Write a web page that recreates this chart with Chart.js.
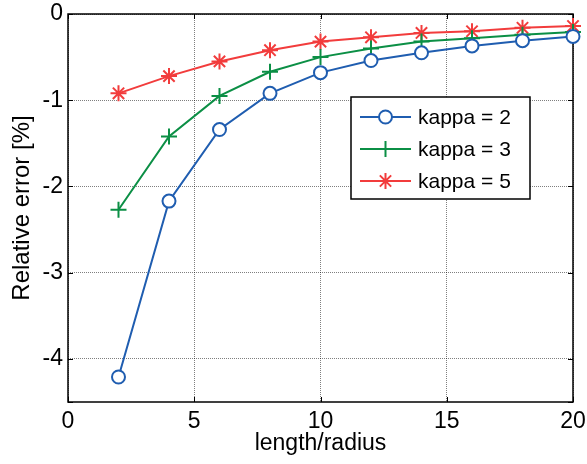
<!DOCTYPE html>
<html>
<head>
<meta charset="utf-8">
<script src="https://cdn.jsdelivr.net/npm/chart.js@4/dist/chart.umd.min.js"></script>
<style>
    body { margin: 0; background: #fff; }
    canvas { display: block; }
</style>
</head>
<body>
<canvas id="errorChart" width="587" height="464"></canvas>
<script>
// Data
const lengthRadius = [2, 4, 6, 8, 10, 12, 14, 16, 18, 20];
const errKappa2 = [-4.21, -2.17, -1.34, -0.92, -0.68, -0.54, -0.45, -0.37, -0.31, -0.26];
const errKappa3 = [-2.27, -1.42, -0.95, -0.67, -0.50, -0.40, -0.32, -0.28, -0.24, -0.21];
const errKappa5 = [-0.92, -0.72, -0.55, -0.42, -0.32, -0.27, -0.22, -0.20, -0.16, -0.14];
const seriesLabels = ['kappa = 2', 'kappa = 3', 'kappa = 5'];
const xTickValues = [0, 5, 10, 15, 20];
const yTickValues = [0, -1, -2, -3, -4];

const FONT = 'Arial, "Liberation Sans", Helvetica, sans-serif';

// build {x, y} points
const toPoints = (ys) => lengthRadius.map((x, i) => ({ x: x, y: ys[i] }));

const makeSeries = (label, ys, color, style, radius) => ({
    label: label,
    data: toPoints(ys),
    borderColor: color,
    backgroundColor: color,
    borderWidth: 2,
    pointStyle: style,
    pointRadius: radius,
    pointBorderWidth: 2,
    pointBorderColor: color,
    pointBackgroundColor: '#ffffff',
    tension: 0,
    clip: false
});

// --- frame with inward ticks (MATLAB style box) ---
const framePlugin = {
    id: 'frame',
    beforeDatasetsDraw(chart) {
        const { ctx, chartArea: a, scales } = chart;
        const tick = 5;
        ctx.save();
        ctx.strokeStyle = '#000';
        ctx.lineWidth = 1.5;
        ctx.strokeRect(a.left, a.top, a.right - a.left, a.bottom - a.top);
        ctx.lineWidth = 1;
        ctx.beginPath();
        xTickValues.forEach(v => {
            const px = Math.round(scales.x.getPixelForValue(v)) + 0.5;
            ctx.moveTo(px, a.bottom); ctx.lineTo(px, a.bottom - tick);
            ctx.moveTo(px, a.top); ctx.lineTo(px, a.top + tick);
        });
        yTickValues.concat([-4.5]).forEach(v => {
            const py = Math.round(scales.y.getPixelForValue(v)) + 0.5;
            ctx.moveTo(a.left, py); ctx.lineTo(a.left + tick, py);
            ctx.moveTo(a.right, py); ctx.lineTo(a.right - tick, py);
        });
        ctx.stroke();
        ctx.restore();
    }
};

// --- legend box inside the axes ---
const boxLegendPlugin = {
    id: 'boxLegend',
    afterDatasetsDraw(chart) {
        const { ctx } = chart;
        const box = { x: 351, y: 97, w: 179, h: 102 };
        const rowY = [117, 149, 181];
        ctx.save();
        ctx.fillStyle = '#fff';
        ctx.fillRect(box.x, box.y, box.w, box.h);
        ctx.strokeStyle = '#000';
        ctx.lineWidth = 1.5;
        ctx.strokeRect(box.x, box.y, box.w, box.h);

        chart.data.datasets.forEach((ds, i) => {
            const y = rowY[i];
            ctx.strokeStyle = ds.borderColor;
            ctx.lineWidth = ds.borderWidth;
            ctx.beginPath();
            ctx.moveTo(360, y);
            ctx.lineTo(411, y);
            ctx.stroke();

            ctx.fillStyle = ds.pointBackgroundColor;
            ctx.strokeStyle = ds.pointBorderColor;
            ctx.lineWidth = ds.pointBorderWidth;
            Chart.helpers.drawPoint(ctx, {
                pointStyle: ds.pointStyle,
                radius: ds.pointRadius,
                rotation: 0,
                borderWidth: ds.pointBorderWidth
            }, 385.5, y);

            ctx.fillStyle = '#000';
            ctx.font = '21px ' + FONT;
            ctx.textBaseline = 'middle';
            ctx.textAlign = 'left';
            ctx.fillText(ds.label, 418, y + 1);
        });
        ctx.restore();
    }
};

const gridStyle = {
    color: 'rgba(0, 0, 0, 0.5)',
    lineWidth: 1,
    drawTicks: false
};

const ctx = document.getElementById('errorChart').getContext('2d');
new Chart(ctx, {
    type: 'line',
    data: {
        datasets: [
            makeSeries(seriesLabels[0], errKappa2, '#1f5db0', 'circle', 6.5),
            makeSeries(seriesLabels[1], errKappa3, '#0b8f45', 'cross', 8),
            makeSeries(seriesLabels[2], errKappa5, '#f23c3c', 'star', 8)
        ]
    },
    options: {
        responsive: false,
        animation: false,
        layout: { padding: { top: 14, right: 14, left: 0, bottom: 0 } },
        plugins: {
            legend: { display: false },
            tooltip: { enabled: false }
        },
        scales: {
            x: {
                type: 'linear',
                min: 0,
                max: 20,
                afterBuildTicks: (scale) => { scale.ticks = xTickValues.map(v => ({ value: v })); },
                afterFit: (scale) => {
                    scale.height = 62;
                    scale.paddingLeft = 0;
                    scale.paddingRight = 0;
                },
                ticks: {
                    color: '#000',
                    font: { family: FONT, size: 23 },
                    padding: 6,
                    maxRotation: 0
                },
                grid: gridStyle,
                border: { display: false, dash: [1, 1] },
                title: {
                    display: true,
                    text: 'length/radius',
                    color: '#000',
                    font: { family: FONT, size: 23 },
                    padding: { top: 0, bottom: 7 }
                }
            },
            y: {
                type: 'linear',
                min: -4.5,
                max: 0,
                afterBuildTicks: (scale) => { scale.ticks = yTickValues.map(v => ({ value: v })); },
                afterFit: (scale) => {
                    scale.width = 68;
                    scale.paddingTop = 0;
                    scale.paddingBottom = 0;
                },
                ticks: {
                    color: '#000',
                    font: { family: FONT, size: 23 },
                    padding: 5
                },
                grid: gridStyle,
                border: { display: false, dash: [1, 1] },
                title: {
                    display: true,
                    text: 'Relative error [%]',
                    color: '#000',
                    font: { family: FONT, size: 24 },
                    padding: { top: 8, bottom: 0 }
                }
            }
        }
    },
    plugins: [framePlugin, boxLegendPlugin]
});
</script>
</body>
</html>
